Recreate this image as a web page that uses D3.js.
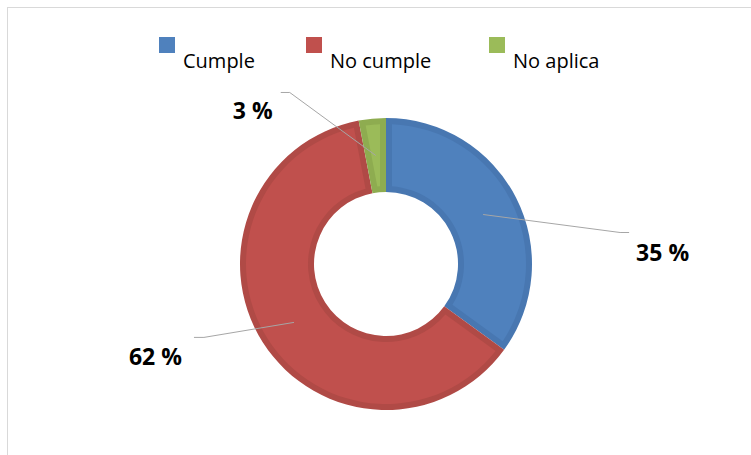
<!DOCTYPE html>
<html>
<head>
<meta charset="utf-8">
<script src="https://cdn.jsdelivr.net/npm/d3@7/dist/d3.min.js"></script>
<style>
  html, body { margin: 0; padding: 0; background: #fff; }
  svg { display: block; }
</style>
</head>
<body>
<svg id="chart" width="751" height="455"></svg>
<script>
const categories = ["Cumple", "No cumple", "No aplica"];
const values = [35, 62, 3];
const labels = ["35 %", "62 %", "3 %"];
const colors = ["#4F81BD", "#C0504D", "#9BBB59"];
const darkColors = ["#4877B1", "#B04A46", "#8EAC50"];

const W = 751, H = 455;
const svg = d3.select("#chart");

// chart area border
svg.append("rect")
  .attr("x", 7.5).attr("y", 7.5)
  .attr("width", W + 20).attr("height", H + 20)
  .attr("fill", "#fff").attr("stroke", "#D9D9D9").attr("stroke-width", 1);

const cx = 386, cy = 264, R = 146, r = 72, bevel = 6;

const pie = d3.pie().sort(null).value(d => d)(values);
const arc = d3.arc().innerRadius(r).outerRadius(R);
const pr = Math.sqrt((r + bevel) ** 2 + (R - bevel) ** 2);
const innerArc = d3.arc().innerRadius(r + bevel).outerRadius(R - bevel)
  .padRadius(pr)
  .padAngle(2 * bevel / pr);

const g = svg.append("g").attr("transform", `translate(${cx},${cy})`);

g.selectAll("path.outer").data(pie).enter().append("path")
  .attr("class", "outer")
  .attr("d", arc)
  .attr("fill", (d, i) => darkColors[i]);

g.selectAll("path.inner").data(pie).enter().append("path")
  .attr("class", "inner")
  .attr("d", innerArc)
  .attr("fill", (d, i) => colors[i]);

// leader lines & labels (elbow offsets relative to arc centroid)
const labelLayout = [
  { elbow: [137, 18], end: [146, 18], text: [153, 46] },
  { elbow: [-90, 15], end: [-100, 15], text: [-165, 43] },
  { elbow: [-86, -63], end: [-95, -63], text: [-143, -36] }
];

pie.forEach((d, i) => {
  const c = arc.centroid(d);
  const L = labelLayout[i];
  g.append("polyline")
    .attr("points", [c, [c[0] + L.elbow[0], c[1] + L.elbow[1]], [c[0] + L.end[0], c[1] + L.end[1]]].map(p => p.join(",")).join(" "))
    .attr("fill", "none").attr("stroke", "#A6A6A6").attr("stroke-width", 1);
  g.append("text")
    .attr("x", c[0] + L.text[0]).attr("y", c[1] + L.text[1])
    .attr("text-anchor", "start")
    .attr("font-family", "'Open Sans', sans-serif")
    .attr("font-weight", "bold")
    .attr("font-size", 23)
    .attr("fill", "#000")
    .text(labels[i]);
});

// legend
const legendX = [159, 306, 489];
const leg = svg.append("g");
categories.forEach((c, i) => {
  leg.append("rect")
    .attr("x", legendX[i]).attr("y", 37)
    .attr("width", 16).attr("height", 16)
    .attr("fill", colors[i]);
  leg.append("text")
    .attr("x", legendX[i] + 24).attr("y", 68)
    .attr("font-family", "'Open Sans', sans-serif")
    .attr("font-size", 20)
    .attr("fill", "#000")
    .text(c);
});
</script>
</body>
</html>
